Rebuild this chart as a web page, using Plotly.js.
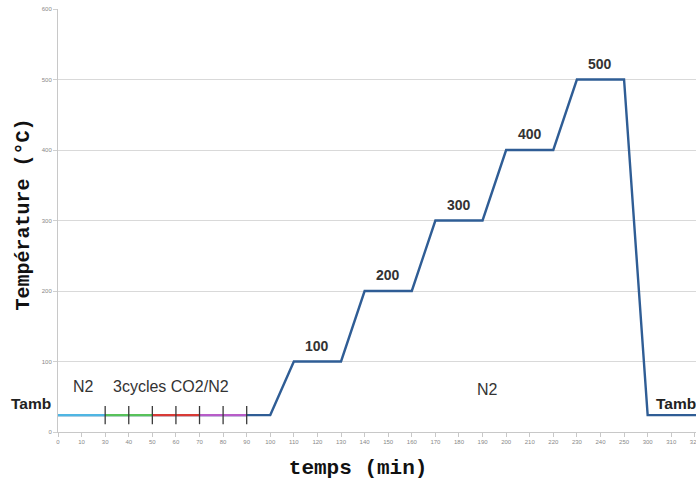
<!DOCTYPE html>
<html>
<head>
<meta charset="utf-8">
<script src="https://cdn.plot.ly/plotly-3.0.1.min.js"></script>
<style>html,body{margin:0;padding:0;background:#fff;}#chart{width:696px;height:481px;}</style>
</head>
<body>
<div id="chart"></div>
<script>
// Time categories as labelled on the original axis (min)
const timeLabels = ["0","10","30","40","50","60","70","80","90","100","110","120","130","140","150","160","170","180","190","200","210","220","230","240","250","300","310","320","330"];
// Temperature profile (°C)
const temperature = [24,24,24,24,24,24,24,24,24,24,100,100,100,200,200,200,300,300,300,400,400,400,500,500,500,24,24,24,24];
const tamb = 24;

// Gas phases drawn over the ambient plateau
const phaseN2 = ["0","10","30"];
const phaseA = ["30","40","50"];
const phaseB = ["50","60","70"];
const phaseC = ["70","80","90"];
const cycleMarks = ["30","40","50","60","70","80","90"];

// Step labels
const stepLabels = ["100","200","300","400","500"];
const stepAt = ["120","150","180","210","240"];
const stepValues = [100,200,300,400,500];

const yTicks = [0,100,200,300,400,500,600];

function flat(xs){ return xs.map(()=>tamb); }
function idx(c){ return timeLabels.indexOf(c); }

const traces = [
  {x: timeLabels, y: temperature, type:"scatter", mode:"lines", line:{color:"#2f5d95", width:2.4}, hoverinfo:"skip"},
  {x: phaseN2, y: flat(phaseN2), type:"scatter", mode:"lines", line:{color:"#4fb6e3", width:2.4}},
  {x: phaseA, y: flat(phaseA), type:"scatter", mode:"lines", line:{color:"#58c25a", width:2.4}},
  {x: phaseB, y: flat(phaseB), type:"scatter", mode:"lines", line:{color:"#d93a36", width:2.4}},
  {x: phaseC, y: flat(phaseC), type:"scatter", mode:"lines", line:{color:"#b85cc8", width:2.4}},
  {x: cycleMarks, y: flat(cycleMarks), type:"scatter", mode:"markers", marker:{symbol:"line-ns", size:13, line:{color:"#3a3a3a", width:1.3}}}
];

const annotations = stepLabels.map((t,i)=>({
  x: idx(stepAt[i]), y: stepValues[i], xref:"x", yref:"y", text:"<b>"+t+"</b>", showarrow:false,
  xanchor:"center", yanchor:"bottom", yshift:6, font:{family:"Liberation Sans, Arial, sans-serif", size:14, color:"#333"}
}));
annotations.push(
  {x:-0.042, y:41, xref:"paper", yref:"y", xanchor:"center", text:"<b>Tamb</b>", showarrow:false, font:{family:"Liberation Sans, Arial, sans-serif", size:15.5, color:"#222"}},
  {x:26.2, y:41, xref:"x", yref:"y", xanchor:"center", text:"<b>Tamb</b>", showarrow:false, font:{family:"Liberation Sans, Arial, sans-serif", size:15.5, color:"#222"}},
  {x:1.06, y:65, xref:"x", yref:"y", xanchor:"center", text:"N2", showarrow:false, font:{family:"Liberation Sans, Arial, sans-serif", size:16, color:"#333"}},
  {x:4.8, y:65, xref:"x", yref:"y", xanchor:"center", text:"3cycles CO2/N2", showarrow:false, font:{family:"Liberation Sans, Arial, sans-serif", size:16, color:"#333"}},
  {x:18.2, y:61, xref:"x", yref:"y", xanchor:"center", text:"N2", showarrow:false, font:{family:"Liberation Sans, Arial, sans-serif", size:16, color:"#333"}}
);

const layout = {
  width:696, height:481,
  margin:{l:58, r:0, t:9, b:49},
  paper_bgcolor:"#fff", plot_bgcolor:"#fff",
  showlegend:false,
  xaxis:{
    type:"category", range:[0,27.05], showgrid:false, zeroline:false,
    showline:true, linecolor:"#c8c8c8", linewidth:1,
    ticks:"outside", ticklen:4, tickcolor:"#c8c8c8",
    tickfont:{family:"Liberation Sans, Arial, sans-serif", size:6, color:"#888"},
    title:{text:"<b>temps (min)\u00a0\u00a0\u00a0</b>", standoff:15, font:{family:"Liberation Mono, Courier New, monospace", size:21, color:"#111"}}
  },
  yaxis:{
    range:[0,600], tickvals:yTicks, showgrid:true, gridcolor:"#d9d9d9", gridwidth:1, zeroline:false,
    showline:true, linecolor:"#c8c8c8", linewidth:1,
    ticks:"outside", ticklen:4, tickcolor:"#d0d0d0",
    tickfont:{family:"Liberation Sans, Arial, sans-serif", size:6, color:"#888"},
    title:{text:"<b>\u00a0Température (°C)</b>", standoff:6, font:{family:"Liberation Mono, Courier New, monospace", size:20, color:"#111"}}
  },
  annotations: annotations
};

Plotly.newPlot("chart", traces, layout, {staticPlot:true, displayModeBar:false});
</script>
</body>
</html>
